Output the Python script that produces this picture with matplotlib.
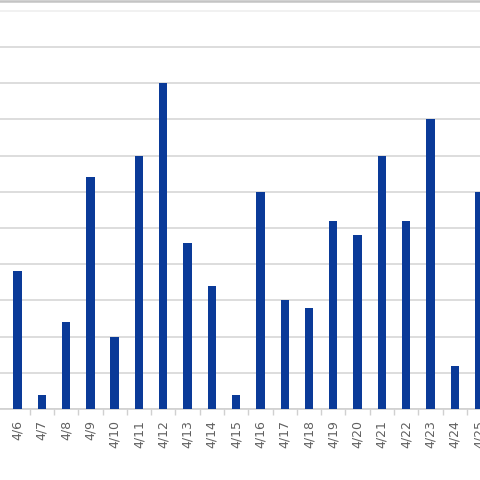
import matplotlib
matplotlib.use("Agg")
import matplotlib.pyplot as plt
from matplotlib.lines import Line2D
import numpy as np

dates = ["4/6", "4/7", "4/8", "4/9", "4/10", "4/11", "4/12", "4/13", "4/14", "4/15",
         "4/16", "4/17", "4/18", "4/19", "4/20", "4/21", "4/22", "4/23", "4/24", "4/25"]
values = [19, 2, 12, 32, 10, 35, 45, 23, 17, 2,
          30, 15, 14, 26, 24, 35, 26, 40, 6, 30]
grid_values = [0, 5, 10, 15, 20, 25, 30, 35, 40, 45, 50, 55]

fig = plt.figure(figsize=(4.8, 4.8), dpi=100)
ax = fig.add_axes([0, 0.1479, 1, 1 - 0.1479])

x = np.arange(len(dates))
ax.bar(x, values, width=0.345, color="#0a3a98", zorder=3)

ax.set_yticks(grid_values)
ax.yaxis.grid(True, color="#dadada", linewidth=1.3, zorder=0)
for gl, v in zip(ax.get_ygridlines(), grid_values):
    if v == 55:
        gl.set_color("#f0f0f0")
ax.tick_params(axis="y", left=False, labelleft=False)

ax.set_xticks(x)
ax.set_xticklabels(dates, rotation=90, fontsize=9, color="#606060")
ax.set_xticks(x + 0.5, minor=True)
ax.tick_params(axis="x", which="major", length=0, pad=8)
ax.tick_params(axis="x", which="minor", length=4, color="#d0d0d0", width=1)

ax.set_xlim(-0.72, 19.04)
ax.set_ylim(0, 56.5)

for side in ["top", "left", "right"]:
    ax.spines[side].set_visible(False)
ax.spines["bottom"].set_color("#d0d0d0")
ax.spines["bottom"].set_linewidth(1.2)

fig.add_artist(Line2D([0, 1], [1 - 1.0 / 480, 1 - 1.0 / 480], transform=fig.transFigure,
                      color="#c4c4c4", linewidth=1.8))

fig.savefig("out.png", dpi=100, facecolor="white")
